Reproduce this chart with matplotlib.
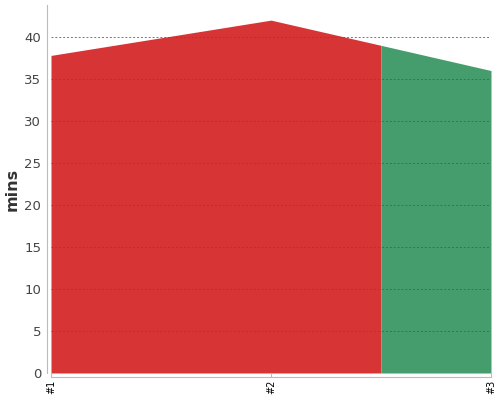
import numpy as np
import matplotlib
matplotlib.use("Agg")
import matplotlib.pyplot as plt

# data
labels = ["#1", "#2", "#3"]
minutes = [37.8, 42.0, 36.0]
point_colors = ["#d73535", "#d73535", "#459d6d"]

x = np.arange(len(labels))
y = np.array(minutes)

fig = plt.figure(figsize=(5, 4), dpi=100)
ax = fig.add_axes([0.102, 0.0675, 0.880, 0.92])

# each point colours the area up to the midpoint with its neighbours;
# consecutive points of the same colour are drawn as one patch
edges = np.concatenate([[x[0]], (x[:-1] + x[1:]) / 2, [x[-1]]])
start = 0
for i in range(1, len(point_colors) + 1):
    if i == len(point_colors) or point_colors[i] != point_colors[start]:
        xs = np.concatenate([[edges[start]], x[start:i], [edges[i]]])
        ys = np.interp(xs, x, y)
        ax.fill_between(xs, 0, ys, color=point_colors[start], linewidth=0, zorder=1)
        start = i

ax.set_xlim(x[0], x[-1])
ax.set_ylim(0, 43.8)
ax.set_yticks(np.arange(0, 41, 5))
ax.set_xticks(x)
ax.set_xticklabels(labels)
ax.set_ylabel("mins", fontsize=11.5, color="#333333", fontweight="semibold")
ax.yaxis.set_label_coords(-0.072, 0.5)

ax.grid(axis="y", linestyle=(0, (2, 2)), color="#555555", linewidth=0.7, alpha=0.8, zorder=2)
ax.set_axisbelow(False)

for side in ["top", "right"]:
    ax.spines[side].set_visible(False)
for side in ["left", "bottom"]:
    ax.spines[side].set_position(("outward", 3))
    ax.spines[side].set_color("#bbbbbb")
ax.spines["bottom"].set_bounds(x[0], x[-1])

ax.tick_params(axis="y", length=0, labelsize=9.5, labelcolor="#444444", pad=4)
ax.tick_params(axis="x", length=3, direction="in", color="#bbbbbb", pad=2, labelsize=7)
plt.setp(ax.get_xticklabels(), rotation=90, va="top", ha="center")

fig.savefig("out.png", dpi=100)
